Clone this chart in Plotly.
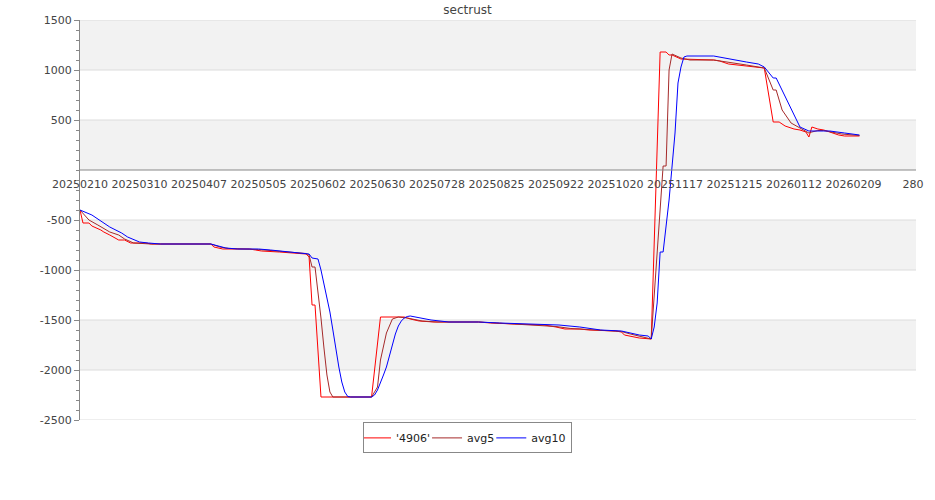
import plotly.graph_objects as go

# ---- data (index positions along the trading-day axis) ----
tick_idx = [0, 20, 40, 60, 80, 100, 120, 140, 160, 180, 200, 220, 240, 260, 280]
tick_text = ["20250210", "20250310", "20250407", "20250505", "20250602", "20250630",
             "20250728", "20250825", "20250922", "20251020", "20251117", "20251215",
             "20260112", "20260209", "280"]

raw_x = [0, 1, 3, 4, 7, 8, 10, 13, 15, 17, 22, 24, 44, 45, 48, 57, 59, 61, 67, 71, 76, 77,
         78, 79, 81, 98, 101, 109, 111, 114, 119, 134, 138, 146, 156, 160, 163, 168, 171,
         180, 182, 183, 187, 188, 192, 195, 197, 198, 199, 202, 213, 215, 218, 224, 229,
         230, 233, 235, 237, 240, 242, 244, 245, 246, 248, 250, 252, 255, 257, 262]
raw_y = [-400, -530, -530, -560, -600, -620, -650, -700, -700, -730, -730, -740, -740, -770,
         -790, -790, -800, -810, -820, -830, -840, -870, -1350, -1350, -2270, -2270, -1470,
         -1470, -1490, -1510, -1520, -1520, -1530, -1540, -1550, -1570, -1590, -1590, -1600,
         -1610, -1620, -1650, -1670, -1680, -1690, 1180, 1180, 1150, 1150, 1110, 1100, 1090,
         1060, 1040, 1020, 1020, 480, 480, 440, 410, 400, 380, 330, 430, 410, 400, 380, 350,
         340, 340]

avg5_x = [0, 3, 6, 10, 13, 15, 18, 24, 44, 47, 50, 60, 68, 76, 77, 78, 79, 80, 81, 82, 83,
          84, 85, 98, 100, 101, 103, 105, 107, 110, 115, 120, 134, 140, 150, 160, 165, 172,
          182, 185, 189, 192, 196, 197, 198, 199, 202, 205, 213, 218, 224, 229, 230, 233, 234,
          236, 239, 242, 245, 246, 248, 250, 253, 256, 262]
avg5_y = [-400, -500, -550, -620, -650, -690, -730, -740, -740, -770, -785, -795, -815, -835,
          -850, -970, -970, -1200, -1480, -1780, -2050, -2220, -2270, -2270, -2170, -1900,
          -1630, -1490, -1470, -1480, -1510, -1520, -1520, -1530, -1545, -1565, -1585, -1600,
          -1615, -1640, -1670, -1690, 40, 40, 1000, 1160, 1120, 1100, 1100, 1080, 1050, 1025,
          1020, 800, 800, 600, 470, 420, 370, 380, 395, 395, 380, 360, 345]

avg10_x = [0, 4, 10, 14, 16, 20, 23, 27, 44, 49, 53, 60, 64, 71, 77, 78, 80, 81, 82, 83, 84,
           85, 86, 87, 88, 89, 90, 91, 98, 99, 100, 101, 102, 103, 104, 105, 106, 107, 108,
           109, 110, 111, 118, 124, 134, 141, 151, 161, 168, 175, 182, 185, 188, 191, 192, 193,
           194, 195, 196, 198, 200, 201, 202, 203, 204, 213, 218, 224, 228, 230, 233, 234, 242,
           245, 250, 252, 257, 262]
avg10_y = [-400, -450, -570, -630, -670, -720, -730, -740, -740, -780, -790, -790, -800, -820,
           -840, -880, -890, -1000, -1130, -1260, -1420, -1600, -1790, -1970, -2120, -2220,
           -2265, -2270, -2270, -2250, -2200, -2130, -2050, -1970, -1860, -1740, -1640, -1560,
           -1510, -1480, -1465, -1460, -1500, -1520, -1520, -1530, -1540, -1550, -1570, -1600,
           -1610, -1630, -1650, -1660, -1690, -1570, -1330, -820, -820, -300, 370, 870, 1030,
           1130, 1140, 1140, 1110, 1080, 1060, 1030, 920, 920, 430, 390, 390, 390, 370, 350]

y_ticks = [1500, 1000, 500, -500, -1000, -1500, -2000, -2500]
y_tick_text = ["1500", "1000", "500", "-500", "-1000", "-1500", "-2000", "-2500"]
bands = [(1000, 1500), (0, 500), (-1000, -500), (-2000, -1500)]

FONT = "DejaVu Sans"
AXIS = "#888888"

fig = go.Figure()
fig.add_trace(go.Scatter(x=raw_x, y=raw_y, mode="lines", name="'4906'",
                         line=dict(color="#ff0000", width=1)))
fig.add_trace(go.Scatter(x=avg5_x, y=avg5_y, mode="lines", name="avg5",
                         line=dict(color="#a52a2a", width=1)))
fig.add_trace(go.Scatter(x=avg10_x, y=avg10_y, mode="lines", name="avg10",
                         line=dict(color="#0000ff", width=1)))

shapes = []
for lo, hi in bands:
    shapes.append(dict(type="rect", xref="paper", yref="y", x0=0, x1=1, y0=lo, y1=hi,
                       fillcolor="#f2f2f2", line=dict(width=0), layer="below"))
for v in y_ticks:
    shapes.append(dict(type="line", xref="paper", yref="y", x0=0, x1=1, y0=v, y1=v,
                       line=dict(color="#dcdcdc", width=1), layer="below"))
shapes.append(dict(type="line", xref="paper", yref="y", x0=0, x1=1, y0=0, y1=0,
                   line=dict(color=AXIS, width=1.2), layer="above"))

fig.update_layout(
    width=935, height=500,
    margin=dict(l=80, r=19, t=20, b=80, autoexpand=False),
    paper_bgcolor="white", plot_bgcolor="white",
    font=dict(family=FONT, size=11, color="#444444"),
    title=dict(text="sectrust", x=0.5, xanchor="center", xref="container",
               y=0.98, yanchor="middle", yref="container",
               font=dict(family=FONT, size=12, color="#444444")),
    shapes=shapes,
    showlegend=True,
    legend=dict(orientation="h", x=0.5, xanchor="center", xref="container",
                y=-0.006, yanchor="top", bordercolor="#888888", borderwidth=1,
                bgcolor="white", font=dict(family=FONT, size=11, color="#222222"),
                itemwidth=30, tracegroupgap=0, indentation=-8),
    xaxis=dict(range=[0, 281], tickmode="array", tickvals=tick_idx, ticktext=tick_text,
               showgrid=False, zeroline=False, showline=False, ticks="",
               anchor="free", position=0.625, tickangle=0, automargin=False,
               ticklabelstandoff=6,
               tickfont=dict(family=FONT, size=11, color="#444444")),
    yaxis=dict(range=[-2500, 1500], tickmode="array", tickvals=y_ticks, ticktext=y_tick_text,
               showgrid=False, zeroline=False, showline=True, linecolor=AXIS, linewidth=1.2,
               ticks="outside", ticklen=5, tickcolor=AXIS, tickwidth=1, automargin=False,
               minor=dict(dtick=100, ticks="outside", ticklen=3, tickcolor=AXIS, showgrid=False),
               tickfont=dict(family=FONT, size=11, color="#444444")),
)

fig.write_html("out.html", config={"displayModeBar": False},
               post_script="document.body.style.margin='0';")
